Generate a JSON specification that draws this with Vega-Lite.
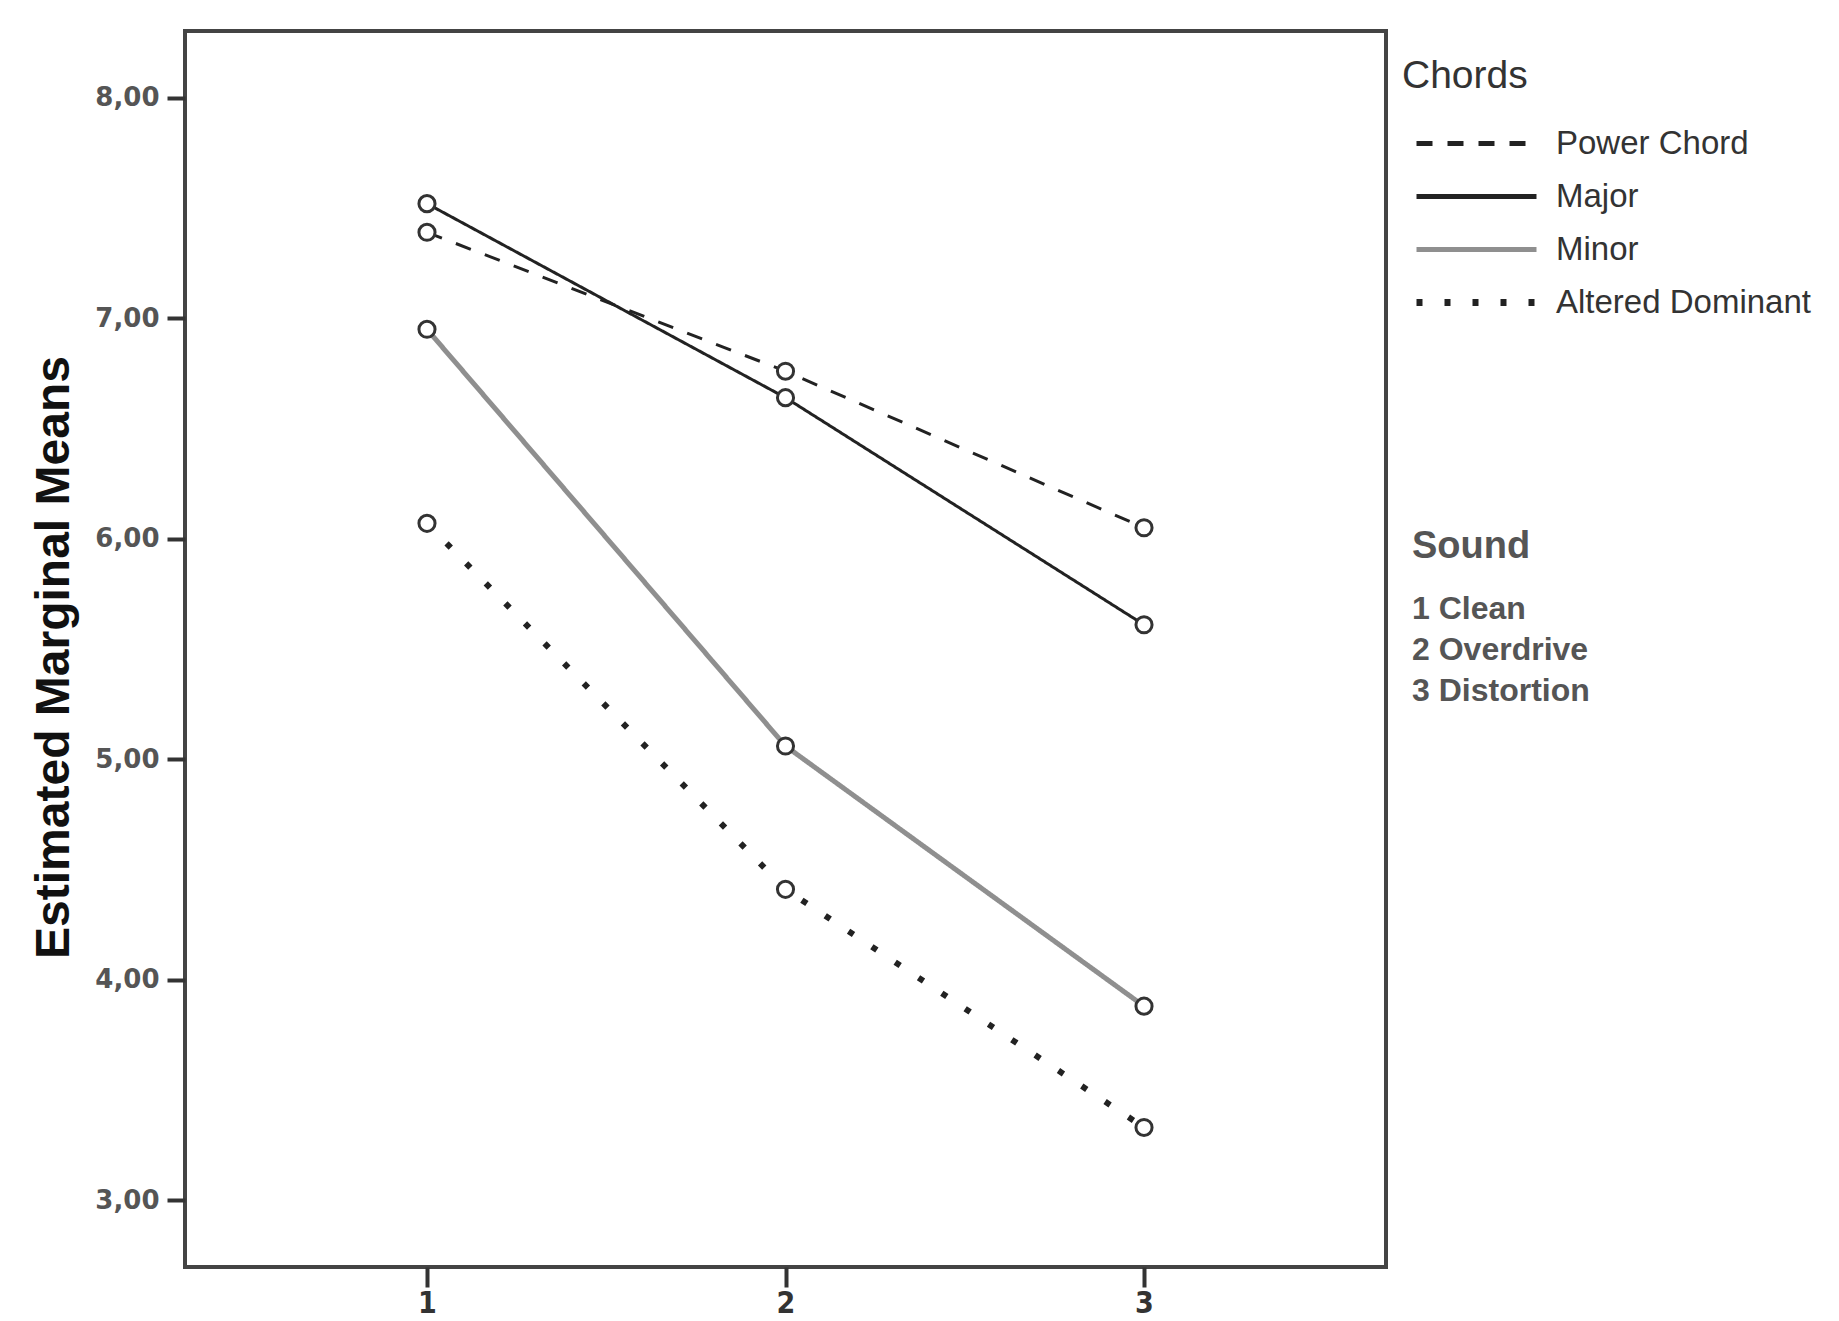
{
  "$schema": "https://vega.github.io/schema/vega-lite/v6.json",
  "width": 1201,
  "height": 1236,
  "autosize": {"type": "none"},
  "padding": {"left": 185, "top": 31, "right": 453, "bottom": 54},
  "background": "white",
  "config": {
    "view": {"stroke": "#444", "strokeWidth": 4},
    "font": "Liberation Sans"
  },
  "datasets": {
    "means": [
      {"Chords": "Power Chord", "Sound": 1, "Mean": 7.39},
      {"Chords": "Power Chord", "Sound": 2, "Mean": 6.76},
      {"Chords": "Power Chord", "Sound": 3, "Mean": 6.05},
      {"Chords": "Major", "Sound": 1, "Mean": 7.52},
      {"Chords": "Major", "Sound": 2, "Mean": 6.64},
      {"Chords": "Major", "Sound": 3, "Mean": 5.61},
      {"Chords": "Minor", "Sound": 1, "Mean": 6.95},
      {"Chords": "Minor", "Sound": 2, "Mean": 5.06},
      {"Chords": "Minor", "Sound": 3, "Mean": 3.88},
      {"Chords": "Altered Dominant", "Sound": 1, "Mean": 6.07},
      {"Chords": "Altered Dominant", "Sound": 2, "Mean": 4.41},
      {"Chords": "Altered Dominant", "Sound": 3, "Mean": 3.33}
    ],
    "sounds": [
      {"SoundLabel": "1 Clean"},
      {"SoundLabel": "2 Overdrive"},
      {"SoundLabel": "3 Distortion"}
    ]
  },
  "layer": [
    {
      "data": {"name": "means"},
      "mark": {"type": "line", "strokeCap": "butt"},
      "encoding": {
        "x": {
          "field": "Sound", "type": "quantitative",
          "scale": {"domain": [0.325, 3.675], "nice": false, "zero": false},
          "axis": {
            "values": [1, 2, 3], "format": "d", "title": null,
            "domain": false, "grid": false,
            "tickSize": 20, "tickWidth": 4, "tickColor": "#333",
            "labelFont": "DejaVu Sans Condensed, Liberation Sans", "labelFontSize": 30, "labelFontWeight": "bold",
            "labelColor": "#333", "labelPadding": 1
          }
        },
        "y": {
          "field": "Mean", "type": "quantitative",
          "scale": {"domain": [2.697, 8.303], "nice": false, "zero": false},
          "axis": {
            "values": [3, 4, 5, 6, 7, 8],
            "labelExpr": "replace(format(datum.value, '.2f'), '.', ',')",
            "domain": false, "grid": false,
            "tickSize": 18, "tickWidth": 4, "tickColor": "#333",
            "labelFont": "DejaVu Sans", "labelFontSize": 26, "labelFontWeight": "bold", "labelColor": "#555",
            "labelPadding": 8,
            "title": "Estimated Marginal Means",
            "titleFont": "Liberation Sans", "titleFontWeight": "bold",
            "titleFontSize": 48, "titleColor": "#111",
            "titleAngle": -90, "titleAlign": "center", "titleBaseline": "alphabetic",
            "titleX": -117, "titleY": 626
          }
        },
        "color": {
          "field": "Chords", "type": "nominal",
          "scale": {
            "domain": ["Power Chord", "Major", "Minor", "Altered Dominant"],
            "range": ["#222", "#222", "#8f8f8f", "#222"]
          },
          "legend": {
            "orient": "none", "legendX": 1217, "legendY": 26,
            "title": "Chords", "titleFont": "Liberation Sans", "titleFontSize": 39,
            "titleFontWeight": "normal", "titleColor": "#333", "titlePadding": 31,
            "labelFont": "Liberation Sans", "labelFontSize": 33, "labelColor": "#333",
            "labelLimit": 500,
            "symbolType": "M-6,0H6", "symbolSize": 400, "symbolOffset": 58,
            "labelOffset": 63, "rowPadding": 19, "padding": 0,
            "encode": {
              "symbols": {
                "update": {
                  "strokeWidth": {"signal": "datum.value === 'Altered Dominant' ? 7 : 5"}
                }
              }
            }
          }
        },
        "strokeDash": {
          "field": "Chords", "type": "nominal",
          "scale": {
            "domain": ["Power Chord", "Major", "Minor", "Altered Dominant"],
            "range": [[16, 15], [1, 0], [1, 0], [6, 22]]
          }
        },
        "strokeWidth": {
          "condition": [
            {"test": "datum.Chords === 'Minor'", "value": 5},
            {"test": "datum.Chords === 'Altered Dominant'", "value": 6}
          ],
          "value": 3
        },
        "detail": {"field": "Chords"}
      }
    },
    {
      "data": {"name": "means"},
      "mark": {"type": "point", "shape": "circle", "filled": false, "fill": "white", "fillOpacity": 1, "stroke": "#333", "strokeWidth": 3, "size": 260},
      "encoding": {
        "x": {"field": "Sound", "type": "quantitative"},
        "y": {"field": "Mean", "type": "quantitative"}
      }
    },
    {
      "data": {"name": "sounds"},
      "mark": {"type": "point", "opacity": 0},
      "encoding": {
        "shape": {
          "field": "SoundLabel", "type": "nominal",
          "legend": {
            "orient": "none", "legendX": 1227, "legendY": 497,
            "title": "Sound", "titleFont": "Liberation Sans", "titleFontSize": 38,
            "titleFontWeight": "bold", "titleColor": "#555", "titlePadding": 27,
            "labelFont": "Liberation Sans", "labelFontSize": 32, "labelFontWeight": "bold",
            "labelColor": "#555", "labelLimit": 500,
            "symbolOpacity": 0, "symbolSize": 0, "labelOffset": -32,
            "rowPadding": 9, "padding": 0
          }
        }
      }
    }
  ]
}
